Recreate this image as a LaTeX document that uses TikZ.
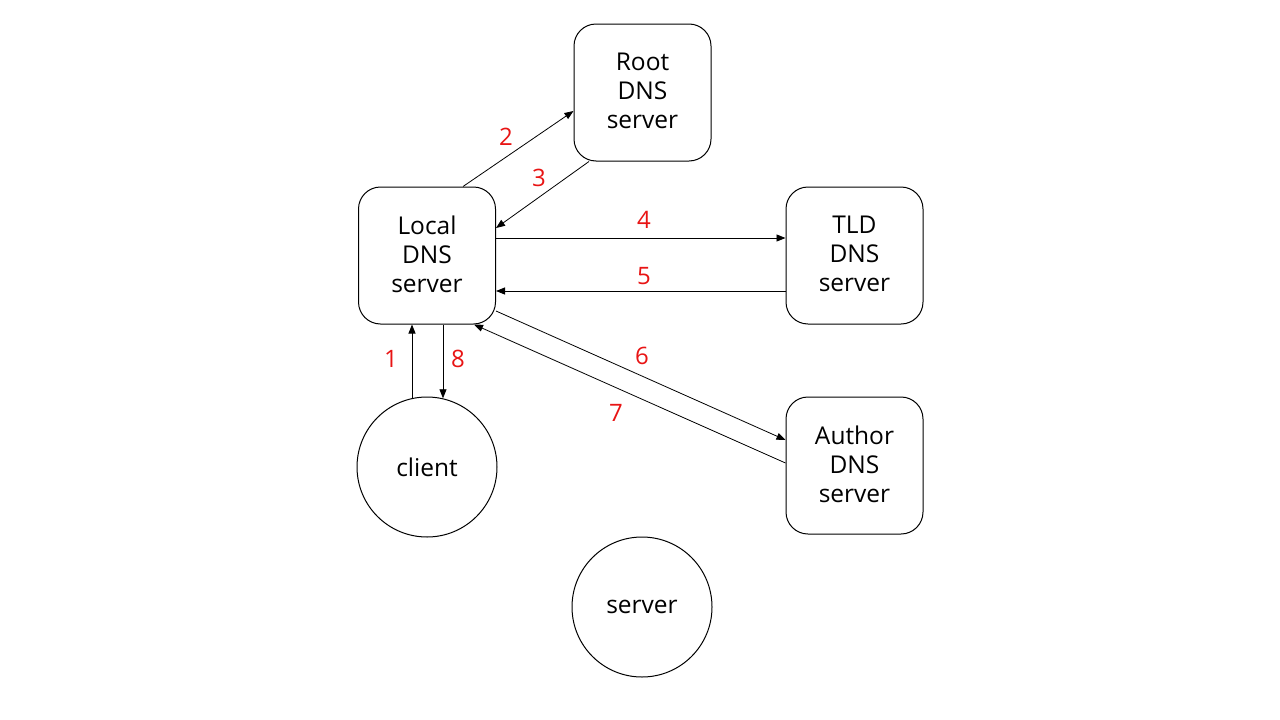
\documentclass[tikz,border=0pt]{standalone}
\usepackage{fontspec}
\setmainfont{Open Sans}
\usetikzlibrary{arrows.meta,calc}
\definecolor{lblred}{RGB}{232,20,20}
\begin{document}
\begin{tikzpicture}[x=1pt,y=-1pt,
  srv/.style={draw,line width=1pt,rounded corners=22pt,minimum width=137pt,minimum height=137pt,
    align=center,font=\fontsize{24.5}{29}\selectfont,inner sep=0pt,text depth=0pt},
  circ/.style={draw,line width=1pt,circle,minimum size=140pt,font=\fontsize{24.5}{29}\selectfont,inner sep=0pt},
  conn/.style={line width=0.8pt,-{Triangle[length=9pt,width=7pt]}},
  num/.style={text=lblred,font=\fontsize{24}{29}\selectfont,inner sep=0pt}]
\useasboundingbox (0,0) rectangle (1280,720);
\node[srv] (root) at (642.5,92.5) {Root\\DNS\\server\rule{0pt}{0pt}\vspace*{3pt}};
\node[srv] (local) at (427,255.5) {Local\\DNS\\server\vspace*{3pt}};
\node[srv] (tld) at (854.5,255.5) {TLD\\DNS\\server\vspace*{3pt}};
\node[srv] (author) at (854.5,465.5) {Author\\DNS\\server\vspace*{3pt}};
\node[circ] (client) at (427,467) {client};
\node[circ] (server) at (642,607) {server};

\draw[conn] ($(local.north)+(36,0)$) -- ($(root.west)+(0,18.5)$);
\draw[conn] ($(root.south)+(-53.5,0)$) -- ($(local.east)+(0,-27.5)$);
\draw[conn] ($(local.east)+(0,-17.5)$) -- ($(tld.west)+(0,-17.5)$);
\draw[conn] ($(tld.west)+(0,35.5)$) -- ($(local.east)+(0,35.5)$);
\draw[conn] ($(local.east)+(0,55.5)$) -- ($(author.west)+(0,-25.5)$);
\draw[conn] ($(author.west)+(0,-2.5)$) -- ($(local.south)+(47,0)$);
\draw[conn] ($(client.north)+(-15,1.6)$) -- ($(local.south)+(-15,0)$);
\draw[conn] ($(local.south)+(16,0)$) -- ($(client.north)+(16,1.8)$);

\node[num] (n2) at (506,137) {2};
\node[num] (n3) at (539,178) {3};
\node[num] (n4) at (644,220) {4};
\node[num] (n5) at (644,276) {5};
\node[num] (n6) at (642,356) {6};
\node[num] (n7) at (616,413) {7};
\node[num] (n1) at (391,359) {1};
\node[num] (n8) at (458,359) {8};
\end{tikzpicture}
\end{document}
